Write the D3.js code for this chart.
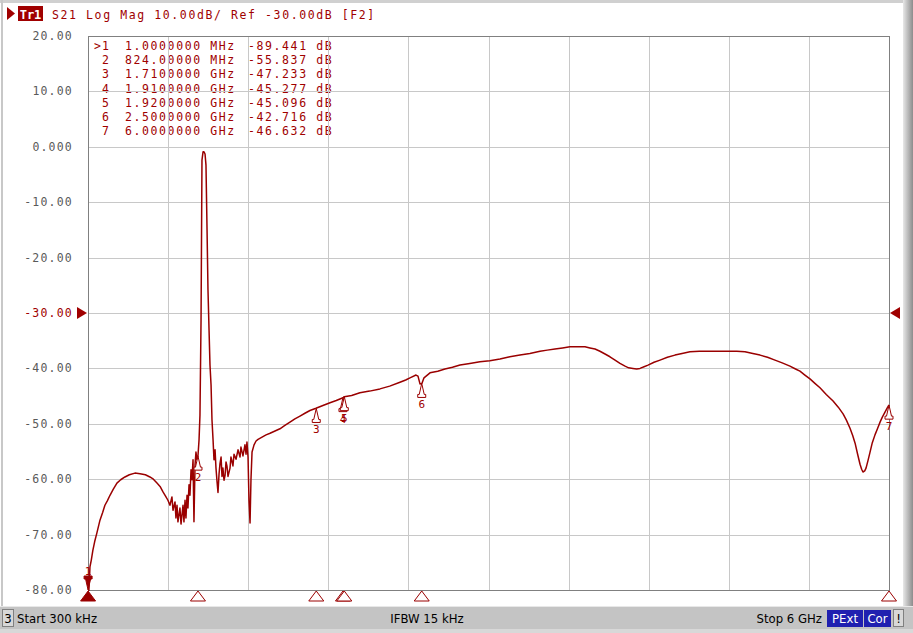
<!DOCTYPE html>
<html><head><meta charset="utf-8">
<script src="https://cdn.jsdelivr.net/npm/d3@7"></script>
<style>body{margin:0;background:#fff;overflow:hidden} svg{display:block}</style>
</head><body>
<svg id="c" width="913" height="633"></svg>
<script>
// ---------- data ----------
const startMHz = 0.3, stopMHz = 6000;
const freqMHz = [0.3,1,6,12,15,25,37,50,67,90,110,127,145,165,190,217,245,277,310,352,390,430,464,490,517,540,562,580,599,
 614,629,637,652,659,667,674,689,697,712,719,727,734,742,749,757,764,772,779,787,794,802,809,817,824,832,839,847,854,862,869,877,884,892,899,907,914,922,929,937,
 944,952,959,967,974,982,989,997,1004,1011,1019,1027,1034,1041,1049,1064,1071,1086,1094,1109,1124,1139,1146,1161,1176,1184,1191,1199,
 1206,1214,1221,1229,1244,1259,1274,1304,1334,1364,1401,1438,
 1475,1513,1550,1588,1625,1663,1708,1760,1813,1860,1910,1920,1975,2037,2110,2187,2260,2337,2380,2412,2457,2472,2487,2502,2517,2562,2620,2674,2730,2787,2860,2936,3010,3086,3160,3236,3310,3386,3440,3498,3555,3610,3665,3723,3760,3798,3835,3873,3910,3948,3985,4023,4050,4082,4110,4135,4165,4195,4240,4285,4340,4397,4450,4509,4580,4659,4730,4809,4860,4921,4980,5034,5090,5146,5200,5258,5300,5333,5370,5408,5445,5483,5530,5581,5620,5656,5680,5708,5728,5746,5765,5783,5795,5805,5818,5828,5843,5858,5875,5895,5915,5933,5950,5970,5985,6000];
const magDb = [-88,-89.4,-80.5,-77.6,-75.8,-74.6,-72.8,-71.3,-69.7,-67.4,-66.0,-64.7,-63.9,-62.9,-61.8,-60.7,-60.1,-59.6,-59.2,-58.9,-59.0,-59.2,-59.6,-60.0,-60.7,-61.3,-62.3,-63.0,-63.8,
 -64.7,-63.2,-65.6,-64.1,-67.0,-64.7,-67.7,-65.2,-68.1,-64.7,-67.7,-63.8,-67.0,-62.9,-65.2,-61.0,-62.9,-58.3,-60.1,-56.5,-67.7,-57.4,-55.1,-56.5,-55.8,-52.9,-48.4,-31.3,-2.4,-0.9,-0.9,-1.3,-3.3,-15.0,-25.8,-33.1,-39.4,-43.0,-49.3,-52.9,
 -56.5,-54.7,-58.0,-60.5,-62.4,-59.0,-57.2,-56.0,-59.5,-58.0,-60.2,-59.3,-56.9,-57.6,-59.5,-58.0,-56.0,-57.6,-55.5,-56.4,-54.7,-56.0,-54.2,-55.8,-53.8,-55.5,-53.3,-56.0,
 -63.8,-67.9,-60.1,-55.1,-53.8,-53.1,-52.8,-52.4,-52.0,-51.7,-51.3,-50.9,
 -50.3,-49.7,-49.1,-48.6,-48.1,-47.6,-47.2,-46.7,-46.2,-45.8,-45.3,-45.1,-44.9,-44.4,-44.1,-43.7,-43.2,-42.5,-42.1,-41.7,-41.2,-41.4,-42.8,-42.7,-41.7,-40.8,-40.5,-40.1,-39.8,-39.4,-39.1,-38.8,-38.6,-38.3,-37.9,-37.6,-37.3,-36.9,-36.7,-36.5,-36.3,-36.1,-36.1,-36.1,-36.3,-36.5,-36.9,-37.4,-37.9,-38.5,-39.1,-39.6,-39.9,-40.0,-40.1,-40.0,-39.7,-39.4,-38.9,-38.5,-38.0,-37.6,-37.3,-37.0,-36.9,-36.9,-36.9,-36.9,-36.9,-37.0,-37.3,-37.6,-38.0,-38.5,-39.0,-39.6,-40.1,-40.5,-41.2,-41.9,-42.7,-43.5,-44.7,-45.9,-47.0,-48.2,-49.3,-50.8,-52.1,-53.5,-55.5,-57.3,-58.2,-58.7,-58.5,-58.0,-56.6,-55.1,-53.4,-52.0,-50.8,-49.7,-48.8,-47.9,-47.2,-46.6];
const yTicks = [20,10,0,-10,-20,-30,-40,-50,-60,-70,-80];
const yTickLabels = ["20.00","10.00","0.000","-10.00","-20.00","-30.00","-40.00","-50.00","-60.00","-70.00","-80.00"];
const refLevel = -30;
const markerIds = ["1","2","3","4","5","6","7"];
const markerFreqMHz = [1,824,1710,1910,1920,2500,6000];
const markerDb = [-89.441,-55.837,-47.233,-45.277,-45.096,-42.716,-46.632];
const markerFreqText = ["1.0000000 MHz","824.00000 MHz","1.7100000 GHz","1.9100000 GHz","1.9200000 GHz","2.5000000 GHz","6.0000000 GHz"];
const markerValText = ["-89.441 dB","-55.837 dB","-47.233 dB","-45.277 dB","-45.096 dB","-42.716 dB","-46.632 dB"];
const headerText = "S21 Log Mag 10.00dB/ Ref -30.00dB [F2]";
const traceName = "Tr1";
const statusStart = "Start 300 kHz", statusIfbw = "IFBW 15 kHz", statusStop = "Stop 6 GHz";

// ---------- drawing ----------
const svg = d3.select("#c");
const L = 88, R = 889, T = 36, B = 590;
const RED = "#a00000", TRACE = "#9a0000";
const mono = "'DejaVu Sans Mono', monospace";
const narrow = "'Liberation Sans Narrow','DejaVu Sans Condensed',sans-serif";

const x = d3.scaleLinear().domain([startMHz, stopMHz]).range([L, R]);
const y = d3.scaleLinear().domain([-80, 20]).range([B, T]);

// window edges
svg.append("rect").attr("x",0).attr("y",0).attr("width",913).attr("height",633).attr("fill","#fff");
svg.append("rect").attr("x",0).attr("y",0).attr("width",913).attr("height",3).attr("fill","#d0d0d0");
svg.append("rect").attr("x",1).attr("y",0).attr("width",2).attr("height",607).attr("fill","#c8c8c8");
const rg = svg.append("defs").append("linearGradient").attr("id","rb");
rg.append("stop").attr("offset","0").attr("stop-color","#e8e8e8");
rg.append("stop").attr("offset","1").attr("stop-color","#8c8c8c");
svg.append("rect").attr("x",903).attr("y",0).attr("width",10).attr("height",607).attr("fill","url(#rb)");

// header
svg.append("path").attr("d",`M7,7 L15,13.5 L7,20 Z`).attr("fill",RED);
svg.append("rect").attr("x",18).attr("y",6).attr("width",25).attr("height",15).attr("fill",RED);
svg.append("text").attr("x",30.5).attr("y",18.5).attr("text-anchor","middle").attr("fill","#fff")
  .attr("font-family",mono).attr("font-weight","bold").attr("font-size","12px").text(traceName);
svg.append("text").attr("x",52).attr("y",19).attr("fill",RED).attr("font-family",mono)
  .attr("font-size","11.5px").attr("letter-spacing","1.6px").text(headerText);

// marker table (under grid)
const tbl = svg.append("g").attr("font-family",mono).attr("font-size","11.5px").attr("fill",RED).attr("letter-spacing","1.6px");
markerIds.forEach((id,i)=>{
  const yy = 50 + i*14.17;
  if (i===0) tbl.append("text").attr("x",94).attr("y",yy).text(">");
  tbl.append("text").attr("x",102).attr("y",yy).text(id);
  tbl.append("text").attr("x",125).attr("y",yy).text(markerFreqText[i]);
  tbl.append("text").attr("x",248).attr("y",yy).text(markerValText[i]);
});

// grid
const g = svg.append("g");
const vt = d3.range(11).map(i => startMHz + i*(stopMHz-startMHz)/10);
g.selectAll(".v").data(vt).enter().append("line")
  .attr("x1",d=>Math.round(x(d))+0.5).attr("x2",d=>Math.round(x(d))+0.5).attr("y1",T).attr("y2",B)
  .attr("stroke","#c8c8c8").attr("stroke-width",1);
g.selectAll(".h").data(yTicks).enter().append("line")
  .attr("y1",d=>Math.round(y(d))+0.5).attr("y2",d=>Math.round(y(d))+0.5).attr("x1",L).attr("x2",R)
  .attr("stroke","#c8c8c8").attr("stroke-width",1);
svg.append("rect").attr("x",L+0.5).attr("y",T+0.5).attr("width",R-L).attr("height",B-T)
  .attr("fill","none").attr("stroke","#808080").attr("stroke-width",1);

// y labels
svg.append("g").selectAll("text").data(yTicks).enter().append("text")
  .attr("x",73).attr("y",d=>y(d)+4).attr("text-anchor","end")
  .attr("font-family",mono).attr("font-size","11.5px").attr("letter-spacing","1.2px")
  .attr("fill",d=>d===refLevel?RED:"#5a5a5a")
  .text((d,i)=>yTickLabels[i]);

// ref level triangles
const ry = y(refLevel);
svg.append("path").attr("d",`M77,${ry-6} L87,${ry} L77,${ry+6} Z`).attr("fill",RED);
svg.append("path").attr("d",`M900,${ry-6} L890,${ry} L900,${ry+6} Z`).attr("fill",RED);

// trace
svg.append("clipPath").attr("id","pc").append("rect").attr("x",L).attr("y",T).attr("width",R-L+1).attr("height",B-T+1);
const pts = freqMHz.map((f,i)=>[f,magDb[i]]);
svg.append("path").datum(pts).attr("clip-path","url(#pc)")
  .attr("d", d3.line().x(d=>x(d[0])).y(d=>y(d[1])))
  .attr("fill","none").attr("stroke",TRACE).attr("stroke-width",1.5).attr("stroke-linejoin","round");

// markers on trace
const mk = svg.append("g");
markerIds.forEach((id,i)=>{
  const mx = x(markerFreqMHz[i]);
  const v = markerDb[i];
  if (v < -80) {
    const my = B;
    mk.append("path").attr("d",`M${mx},${my} L${mx-2.5},${my-11} L${mx-4},${my-11} L${mx-4},${my-14} L${mx+4},${my-14} L${mx+4},${my-11} L${mx+2.5},${my-11} Z`)
      .attr("fill",i===0?TRACE:"#fff").attr("stroke",TRACE).attr("stroke-width",1);
    mk.append("text").attr("x",mx).attr("y",my-15).attr("text-anchor","middle").attr("fill",RED)
      .attr("font-family",mono).attr("font-size","11px").text(id);
  } else {
    const my = y(v);
    mk.append("path").attr("d",`M${mx},${my} L${mx-2.5},${my+11} L${mx-4},${my+11} L${mx-4},${my+14} L${mx+4},${my+14} L${mx+4},${my+11} L${mx+2.5},${my+11} Z`)
      .attr("fill",i===0?TRACE:"#fff").attr("stroke",TRACE).attr("stroke-width",1);
    mk.append("text").attr("x",mx).attr("y",my+25).attr("text-anchor","middle").attr("fill",RED)
      .attr("font-family",mono).attr("font-size","11px").text(id);
  }
  // bottom stimulus triangles
  mk.append("path").attr("d",`M${mx},${B+1} L${mx-7.5},${B+11} L${mx+7.5},${B+11} Z`)
    .attr("fill",i===0?TRACE:"#fff").attr("stroke",TRACE).attr("stroke-width",1);
});

// status bar
const sb = svg.append("g");
sb.append("rect").attr("x",0).attr("y",606).attr("width",913).attr("height",27).attr("fill","#c4c4c4");
sb.append("rect").attr("x",0).attr("y",606).attr("width",913).attr("height",1).attr("fill","#e8e8e8");
sb.append("rect").attr("x",0).attr("y",629).attr("width",913).attr("height",4).attr("fill","#d8d8d8");
sb.append("rect").attr("x",2.5).attr("y",609.5).attr("width",11).attr("height",17).attr("fill","#d8d8d8").attr("stroke","#808080");
sb.append("text").attr("x",8).attr("y",623).attr("text-anchor","middle").attr("font-family",narrow).attr("font-size","13px").attr("fill","#000").text("3");
sb.append("text").attr("x",17).attr("y",623).attr("font-family",narrow).attr("font-size","13px").attr("fill","#000").text(statusStart);
sb.append("text").attr("x",427).attr("y",623).attr("text-anchor","middle").attr("font-family",narrow).attr("font-size","13px").attr("fill","#000").text(statusIfbw);
sb.append("text").attr("x",822).attr("y",623).attr("text-anchor","end").attr("font-family",narrow).attr("font-size","13px").attr("fill","#000").text(statusStop);
[["PExt",827,36],["Cor",864,27]].forEach(([t,bx,bw])=>{
  sb.append("rect").attr("x",bx).attr("y",610).attr("width",bw).attr("height",17).attr("fill","#2020b0");
  sb.append("text").attr("x",bx+bw/2).attr("y",623).attr("text-anchor","middle").attr("font-family",narrow).attr("font-size","13px").attr("fill","#fff").text(t);
});
sb.append("rect").attr("x",893.5).attr("y",609.5).attr("width",10).attr("height",17).attr("fill","#d8d8d8").attr("stroke","#808080");
sb.append("text").attr("x",898.5).attr("y",623).attr("text-anchor","middle").attr("font-family",narrow).attr("font-size","13px").attr("fill","#000").text("!");
</script>
</body></html>
